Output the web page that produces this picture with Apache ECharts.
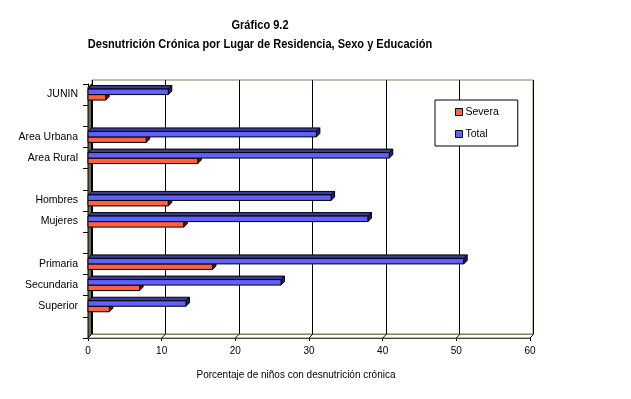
<!DOCTYPE html>
<html>
<head>
<meta charset="utf-8">
<script src="https://cdn.jsdelivr.net/npm/echarts@6/dist/echarts.min.js"></script>
<style>
html, body { margin: 0; padding: 0; background: #fff; }
#main { width: 631px; height: 399px; }
</style>
</head>
<body>
<div id="main"></div>
<script>
// categorias (las vacias separan los grupos)
var categorias = ['JUNIN', ' ', 'Area Urbana', 'Area Rural', '  ', 'Hombres', 'Mujeres', '   ', 'Primaria', 'Secundaria', 'Superior', '    '];
var total  = [10.9, null, 31.0, 40.9, null, 33.0, 38.0, null, 51.0, 26.2, 13.3, null];
var severa = [2.4,  null, 7.9,  14.9, null, 10.9, 13.0, null, 16.9, 7.0,  2.9,  null];
var ticksX = [0, 10, 20, 30, 40, 50, 60];

var fuente = 'Liberation Sans, Arial, sans-serif';
var prof = 3.5; // profundidad del efecto 3D

function aDatos(arr) {
	var out = [];
	for (var i = 0; i < arr.length; i++) {
		if (arr[i] != null) out.push([arr[i], i]);
	}
	return out;
}

// barra con cara frontal, superior y lateral
function barra3d(arriba, cFrente, cTapa, cLado) {
	return function (params, api) {
		var v = api.value(0), c = api.value(1);
		var p0 = api.coord([0, c]);
		var p1 = api.coord([v, c]);
		var banda = api.size([0, 1])[1];
		var h = banda * 0.26;
		var x0 = p0[0], x1 = p1[0];
		var y0 = arriba ? p0[1] - h : p0[1];
		var y1 = y0 + h;
		var d = prof;
		var borde = { stroke: '#000', lineWidth: 1 };
		return {
			type: 'group',
			children: [
				{ type: 'polygon', shape: { points: [[x0, y0], [x1, y0], [x1 + d, y0 - d], [x0 + d, y0 - d]] },
				  style: Object.assign({ fill: cTapa }, borde) },
				{ type: 'polygon', shape: { points: [[x1, y0], [x1 + d, y0 - d], [x1 + d, y1 - d], [x1, y1]] },
				  style: Object.assign({ fill: cLado }, borde) },
				{ type: 'rect', shape: { x: x0, y: y0, width: x1 - x0, height: h },
				  style: Object.assign({ fill: cFrente }, borde) }
			]
		};
	};
}

// pared izquierda y piso
function paredes(params, api) {
	var cs = params.coordSys;
	var x = cs.x, y = cs.y, w = cs.width, hh = cs.height, d = prof;
	var hijos = [
		{ type: 'polygon', shape: { points: [[x, y + d], [x + d, y], [x + d, y + hh - d], [x, y + hh]] },
		  style: { fill: '#6a6a4e', stroke: '#000', lineWidth: 1 } },
		{ type: 'polygon', shape: { points: [[x, y + hh], [x + d, y + hh - d], [x + w + d, y + hh - d], [x + w, y + hh]] },
		  style: { fill: '#fff', stroke: '#808060', lineWidth: 1 } }
	];
	for (var i = 0; i < ticksX.length; i++) {
		var p = api.coord([ticksX[i], 0]);
		hijos.push({ type: 'line', shape: { x1: p[0], y1: y + hh, x2: p[0] + d, y2: y + hh - d },
			style: { stroke: '#000', lineWidth: 1 } });
	}
	return { type: 'group', children: hijos };
}

var myChart = echarts.init(document.getElementById('main'), null, { renderer: 'canvas' });

var fTitulo = 'bold 13px "Liberation Sans", Arial, sans-serif';

var option = {
	backgroundColor: '#fff',
	animation: false,
	graphic: [
		{ type: 'text', x: 260, y: 25, scaleX: 0.85, style: { text: 'Gráfico 9.2', font: fTitulo, fill: '#000', textAlign: 'center', textVerticalAlign: 'middle' } },
		{ type: 'text', x: 260, y: 44, scaleX: 0.85, style: { text: 'Desnutrición Crónica por Lugar de Residencia, Sexo y Educación', font: fTitulo, fill: '#000', textAlign: 'center', textVerticalAlign: 'middle' } },
		{ type: 'text', x: 296, y: 375, style: { text: 'Porcentaje de niños con desnutrición crónica', font: '10px ' + fuente, fill: '#000', textAlign: 'center', textVerticalAlign: 'middle' } }
	],
	legend: {
		data: ['Severa', 'Total'],
		orient: 'vertical',
		left: 435,
		top: 100,
		padding: [6, 19, 6, 20],
		itemGap: 10,
		itemWidth: 7,
		itemHeight: 7,
		icon: 'rect',
		itemStyle: { borderColor: '#000', borderWidth: 1 },
		backgroundColor: '#fff',
		borderColor: '#000',
		borderWidth: 1,
		borderRadius: 0,
		textStyle: { fontFamily: fuente, fontSize: 10.5, color: '#000', lineHeight: 12, padding: [0, 0, 0, -2] }
	},
	grid: [
		{ left: 88, right: 101, top: 84, bottom: 61 },
		{ left: 92, right: 98, top: 80, bottom: 65, show: true, borderColor: '#808060', borderWidth: 1, backgroundColor: '#fff' }
	],
	xAxis: [
		{
			gridIndex: 0, type: 'value', min: 0, max: 60, interval: 10,
			axisLine: { show: true, lineStyle: { color: '#000' } },
			axisTick: { show: true, length: 3, lineStyle: { color: '#000' } },
			axisLabel: { fontFamily: fuente, fontSize: 10, color: '#000', margin: 8 },
			splitLine: { show: false }
		},
		{
			gridIndex: 1, type: 'value', min: 0, max: 60, interval: 10,
			axisLine: { show: false }, axisTick: { show: false }, axisLabel: { show: false },
			splitLine: { show: true, lineStyle: { color: '#000', width: 1 } }
		}
	],
	yAxis: [
		{
			gridIndex: 0, type: 'category', data: categorias, inverse: true,
			axisLine: { show: true, lineStyle: { color: '#000' } },
			axisTick: { show: true, length: 5, lineStyle: { color: '#000' } },
			axisLabel: { fontFamily: fuente, fontSize: 10.5, color: '#000', margin: 10 },
			splitLine: { show: false }
		},
		{
			gridIndex: 1, type: 'category', data: categorias, inverse: true, show: false
		}
	],
	series: [
		{
			name: 'paredes', type: 'custom', xAxisIndex: 0, yAxisIndex: 0, z: 1,
			silent: true, renderItem: paredes, data: [[0, 0]]
		},
		{
			name: 'Severa', type: 'custom', xAxisIndex: 0, yAxisIndex: 0, z: 3,
			itemStyle: { color: '#ff6040' },
			renderItem: barra3d(false, '#ff6040', '#a03a20', '#601800'),
			encode: { x: 0, y: 1 },
			data: aDatos(severa)
		},
		{
			name: 'Total', type: 'custom', xAxisIndex: 0, yAxisIndex: 0, z: 4,
			itemStyle: { color: '#6060ff' },
			renderItem: barra3d(true, '#6060ff', '#3a3a9a', '#202060'),
			encode: { x: 0, y: 1 },
			data: aDatos(total)
		}
	]
};

myChart.setOption(option);
</script>
</body>
</html>
